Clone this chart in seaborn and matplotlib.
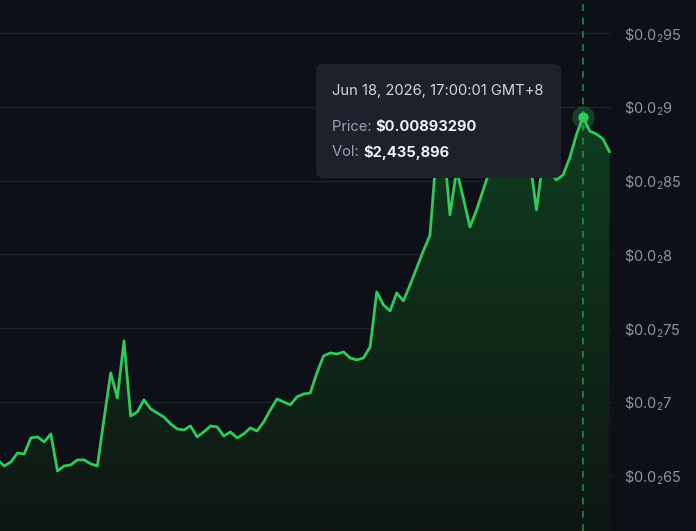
import numpy as np
import pandas as pd
import matplotlib
matplotlib.use("Agg")
import matplotlib.pyplot as plt
import seaborn as sns
from matplotlib.patches import FancyBboxPatch
from matplotlib.colors import LinearSegmentedColormap

# ---- data ----
idx = list(range(-1, 92))
price = [
    0.006607, 0.006566, 0.006593, 0.006654, 0.006647, 0.006756, 0.006763, 0.006729, 0.006783,
    0.006532, 0.006566, 0.006573, 0.006607, 0.006607, 0.006580, 0.006566, 0.006885, 0.007197,
    0.007027, 0.007414, 0.006905, 0.006932, 0.007014, 0.006953, 0.006925, 0.006898, 0.006851,
    0.006817, 0.006810, 0.006837, 0.006763, 0.006797, 0.006837, 0.006831, 0.006769, 0.006797,
    0.006756, 0.006783, 0.006824, 0.006803, 0.006864, 0.006946, 0.007020, 0.007000, 0.006980,
    0.007034, 0.007054, 0.007061, 0.007197, 0.007312, 0.007332, 0.007325, 0.007339, 0.007298,
    0.007285, 0.007298, 0.007373, 0.007746, 0.007658, 0.007617, 0.007739, 0.007685, 0.007793,
    0.007908, 0.008024, 0.008132, 0.008708, 0.008776, 0.008268, 0.008573, 0.008383, 0.008186,
    0.008302, 0.008437, 0.008573, 0.008641, 0.008708, 0.008675, 0.008708, 0.008742, 0.008641,
    0.008302, 0.008641, 0.008559, 0.008505, 0.008539, 0.008654, 0.008810, 0.0089329, 0.008837,
    0.008817, 0.008783, 0.008695,
]
yticks = [0.0065, 0.007, 0.0075, 0.008, 0.0085, 0.009, 0.0095]
ytick_labels = [r"\$0.0$_{\mathrm{2}}$65", r"\$0.0$_{\mathrm{2}}$7", r"\$0.0$_{\mathrm{2}}$75",
                r"\$0.0$_{\mathrm{2}}$8", r"\$0.0$_{\mathrm{2}}$85", r"\$0.0$_{\mathrm{2}}$9",
                r"\$0.0$_{\mathrm{2}}$95"]
hover_idx = 87
tip_date = "Jun 18, 2026, 17:00:01 GMT+8"
tip_price = "$0.00893290"
tip_vol = "$2,435,896"

df = pd.DataFrame({"t": idx, "price": price})

BG = "#0d1117"
LINE = "#30c95b"
GRID = "#1c2229"

sns.set_theme(style="dark")
plt.rcParams["font.family"] = ["Inter", "DejaVu Sans"]
plt.rcParams["mathtext.fontset"] = "custom"
plt.rcParams["mathtext.rm"] = "Inter"
plt.rcParams["mathtext.it"] = "Inter"
plt.rcParams["mathtext.bf"] = "Inter:bold"

fig = plt.figure(figsize=(6.96, 5.31), dpi=100, facecolor=BG)
ax = fig.add_axes([0, 0, 612 / 696, 1])
ax.set_facecolor(BG)

xmin, xmax = -0.64, 91.36
ymin, ymax = 0.006125, 0.009725
ax.set_xlim(xmin, xmax)
ax.set_ylim(ymin, ymax)

for yt in yticks:
    ax.axhline(yt, color=GRID, lw=1.0, zorder=0)

# gradient fill under the line
grad = np.linspace(0, 1, 256).reshape(-1, 1)
cmap = LinearSegmentedColormap.from_list("g", ["#0e1613", "#0f401f"])
poly = ax.fill_between(df["t"], df["price"], ymin, color="none", lw=0)
img = ax.imshow(grad, aspect="auto", cmap=cmap, origin="lower",
                extent=[xmin, xmax, ymin, 0.0091], zorder=1)
img.set_clip_path(poly.get_paths()[0], transform=ax.transData)

sns.lineplot(data=df, x="t", y="price", ax=ax, color=LINE, lw=2.0, zorder=3)

# hover crosshair + marker
sel = df[df["t"] == hover_idx]
hx, hy = sel["t"].iloc[0], sel["price"].iloc[0]
ax.axvline(hx, color="#1f8c46", lw=1.2, ls=(0, (4, 4)), zorder=2)
ax.scatter([hx], [hy], s=260, color=LINE, alpha=0.25, zorder=4, lw=0)
ax.scatter([hx], [hy], s=55, color=LINE, zorder=5, lw=0)

for s in ax.spines.values():
    s.set_visible(False)
ax.set_xticks([])
ax.set_yticks(yticks)
ax.yaxis.tick_right()
ax.set_yticklabels(ytick_labels, color="#8b93a5", fontsize=10.5)
ax.tick_params(axis="y", length=0, pad=8.5)
ax.set_xlabel("")
ax.set_ylabel("")
ax.grid(False)

# tooltip
W, H = 696, 531
box = FancyBboxPatch((316 / W, 1 - 178 / H), (561 - 316) / W, (178 - 64) / H,
                     boxstyle="round,pad=0,rounding_size=0.012",
                     transform=fig.transFigure, facecolor="#1d212b",
                     edgecolor="none", zorder=10)
fig.patches.append(box)
FS = 10.6
fig.text(332 / W, 1 - 91 / H, tip_date, color="#d2d5dc", fontsize=FS, va="center", ha="left", zorder=11)
t1 = fig.text(332 / W, 1 - 127 / H, "Price: ", color="#9aa2b1", fontsize=FS, va="center", ha="left", zorder=11)
fig.canvas.draw()
r = fig.canvas.get_renderer()
bb = t1.get_window_extent(r)
fig.text(bb.x1 / W, 1 - 127 / H, tip_price, color="#eef0f3", fontsize=FS, fontweight="bold", va="center", ha="left", zorder=11)
t2 = fig.text(332 / W, 1 - 152 / H, "Vol: ", color="#9aa2b1", fontsize=FS, va="center", ha="left", zorder=11)
bb2 = t2.get_window_extent(r)
fig.text(bb2.x1 / W, 1 - 152 / H, tip_vol, color="#eef0f3", fontsize=FS, fontweight="bold", va="center", ha="left", zorder=11)

fig.savefig("out.png", dpi=100, facecolor=BG)
